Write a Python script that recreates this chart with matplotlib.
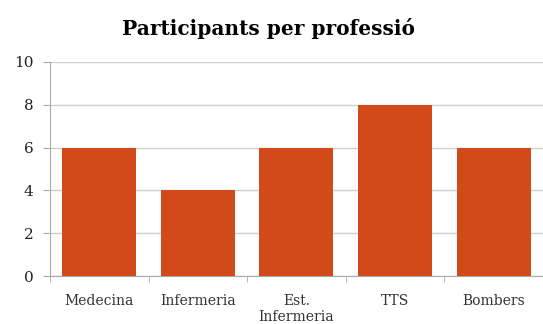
import matplotlib.pyplot as plt
import numpy as np

categories = ["Medecina", "Infermeria", "Est.\nInfermeria", "TTS", "Bombers"]
participants = [6, 4, 6, 8, 6]

plt.rcParams['font.family'] = ['DejaVu Serif']

fig = plt.figure(figsize=(5.43, 3.24), dpi=100)
ax = fig.add_axes([0.092, 0.148, 0.908, 0.661])

x = np.arange(len(categories))
ax.bar(x, participants, width=0.75, color='#D2491A', zorder=3)

ax.set_ylim(0, 10)
ax.set_xlim(-0.5, 4.48)
ax.set_yticks(range(0, 11, 2))
ax.yaxis.grid(True, color='#d0d0d0', linewidth=1, zorder=0)

ax.set_xticks(x)
ax.set_xticklabels(categories, fontsize=10, color='#333333', linespacing=1.15)
ax.set_xticks(np.arange(-0.5, 5, 1), minor=True)
ax.tick_params(axis='x', which='major', length=0, pad=13)
ax.tick_params(axis='x', which='minor', length=4, color='#aaaaaa')
ax.tick_params(axis='y', length=5, color='#aaaaaa', labelsize=11, pad=7,
               labelcolor='#222222')

for side in ['top', 'right']:
    ax.spines[side].set_visible(False)
for side in ['left', 'bottom']:
    ax.spines[side].set_color('#aaaaaa')

fig.suptitle("Participants per professió", fontsize=14.5, fontweight='bold',
             x=0.495, y=0.945)

fig.savefig("out.png", dpi=100)
